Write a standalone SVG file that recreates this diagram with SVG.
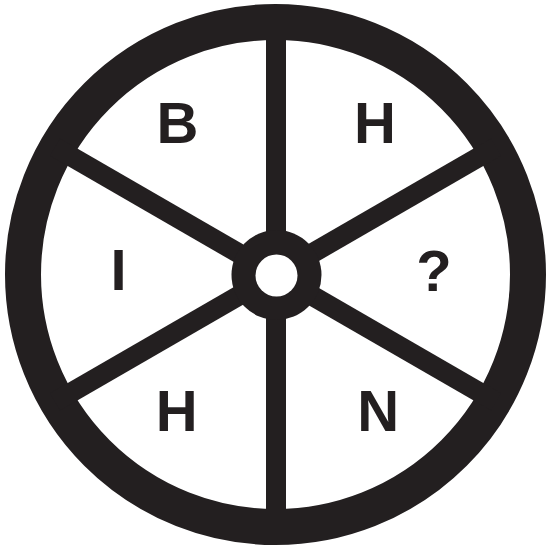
<svg xmlns="http://www.w3.org/2000/svg" width="546" height="547" viewBox="0 0 546 547">
<style>
.ink{fill:none;stroke:#231f20}
.lbl{font-family:"Liberation Sans",Arial,sans-serif;font-weight:bold;font-size:58px;fill:#231f20;text-anchor:middle}
</style>
<rect width="546" height="547" fill="#fff"/>
<g id="wheel">
<circle class="ink" cx="275.5" cy="274.5" r="252.5" stroke-width="36"/>
<g id="spokes" stroke="#231f20" stroke-width="20">
<line x1="276" y1="20" x2="276" y2="530"/>
<line x1="275.5" y1="274.5" x2="55" y2="147.2"/>
<line x1="275.5" y1="274.5" x2="496" y2="147.2"/>
<line x1="275.5" y1="274.5" x2="55" y2="401.8"/>
<line x1="275.5" y1="274.5" x2="496" y2="401.8"/>
</g>
<circle cx="276.5" cy="275" r="45" fill="#231f20"/>
<circle cx="276.5" cy="275.5" r="21" fill="#fff"/>
</g>
<g id="labels">
<text class="lbl" x="177.5" y="143">B</text>
<text class="lbl" x="375" y="143">H</text>
<text class="lbl" x="118.5" y="290">I</text>
<text class="lbl" x="434" y="291">?</text>
<text class="lbl" x="176.7" y="431">H</text>
<text class="lbl" x="378.3" y="431">N</text>
</g>
</svg>
